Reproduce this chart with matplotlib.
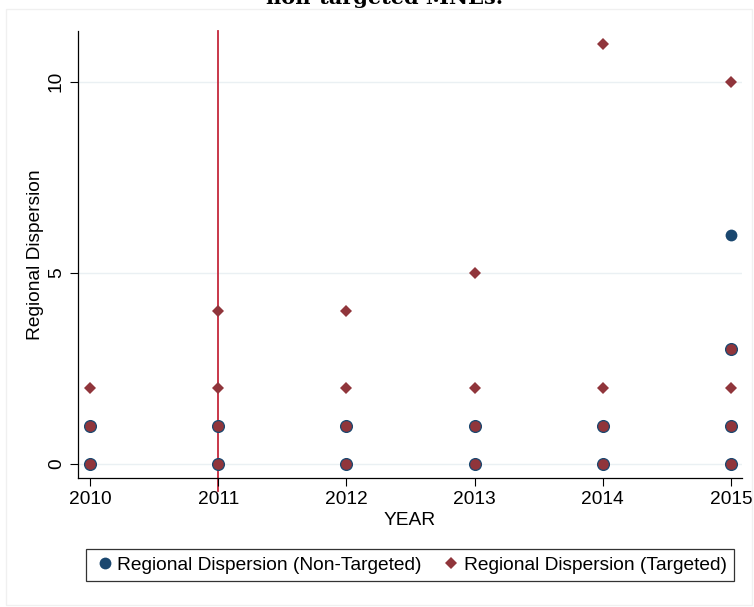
import matplotlib.pyplot as plt
from matplotlib.lines import Line2D
from matplotlib.patches import Rectangle

plt.rcParams['font.family'] = ['Liberation Sans', 'DejaVu Sans']

# Values
years = [2010, 2011, 2012, 2013, 2014, 2015]
nontargeted = {
    2010: [0, 1],
    2011: [0, 1],
    2012: [0, 1],
    2013: [0, 1],
    2014: [0, 1],
    2015: [0, 1, 3, 6],
}
targeted = {
    2010: [0, 1, 2],
    2011: [0, 1, 2, 4],
    2012: [0, 1, 2, 4],
    2013: [0, 1, 2, 5],
    2014: [0, 1, 2, 11],
    2015: [0, 1, 2, 3, 10],
}
event_year = 2011
y_ticks = [0, 5, 10]

navy = '#1a476f'
maroon = '#90353b'
line_red = '#c4283c'
fs = 13.8

fig = plt.figure(figsize=(7.54, 6.07), dpi=100)
ax = fig.add_axes([0.1034, 0.2125, 0.8806, 0.7365])

# faint outer border of the graph region
fig.patches.append(Rectangle((0.008, 0.003), 0.99, 0.982, transform=fig.transFigure,
                             fill=False, edgecolor='#f0f0f0', linewidth=1))

# caption of the page above, cut off at the top edge like in the source
fig.text(0.51, 1 - 4 / 607, 'non-targeted MNEs.', ha='center', va='baseline',
         fontsize=15, family='DejaVu Serif', fontweight='bold')

for v in y_ticks:
    ax.axhline(v, color='#eaf0f3', linewidth=1, zorder=0)

ax.axvline(event_year, color=line_red, linewidth=1.3, zorder=1, clip_on=False,
           ymin=-0.03, ymax=1)

nx, ny, tx, ty, ox, oy = [], [], [], [], [], []
for yr in years:
    for v in nontargeted[yr]:
        if v in targeted[yr]:
            ox.append(yr)
            oy.append(v)
        else:
            nx.append(yr)
            ny.append(v)
    for v in targeted[yr]:
        if v not in nontargeted[yr]:
            tx.append(yr)
            ty.append(v)

ax.plot(nx, ny, 'o', color=navy, markersize=8.5, markeredgewidth=0, zorder=3)
ax.plot(tx, ty, 'D', color=maroon, markersize=6.3, markeredgewidth=0, zorder=3)
ax.plot(ox, oy, 'o', markerfacecolor=maroon, markeredgecolor=navy,
        markersize=8.5, markeredgewidth=0.9, zorder=3)

ax.set_xlim(2009.906, 2015.086)
ax.set_ylim(-0.366, 11.33)
ax.set_xticks(years)
ax.set_yticks(y_ticks)
ax.tick_params(axis='both', direction='out', length=6, width=0.8, labelsize=fs,
               colors='black')
for lbl in ax.get_yticklabels():
    lbl.set_rotation(90)
    lbl.set_va('center')

for s in ['top', 'right']:
    ax.spines[s].set_visible(False)
for s in ['left', 'bottom']:
    ax.spines[s].set_linewidth(0.9)

ax.set_xlabel('YEAR', fontsize=fs, labelpad=3)
ax.set_ylabel('Regional Dispersion', fontsize=fs, labelpad=3)

handles = [
    Line2D([], [], marker='o', linestyle='none', color=navy, markersize=8.5,
           markeredgewidth=0, label='Regional Dispersion (Non-Targeted)'),
    Line2D([], [], marker='D', linestyle='none', color=maroon, markersize=6.3,
           markeredgewidth=0, label='Regional Dispersion (Targeted)'),
]
leg = fig.legend(handles=handles, loc='center', bbox_to_anchor=(0.5444, 1 - 565 / 607),
                 ncol=2, fontsize=fs, frameon=True, fancybox=False,
                 handletextpad=0.1, columnspacing=1.0, borderpad=0.4,
                 handlelength=1.1)
leg.get_frame().set_edgecolor('black')
leg.get_frame().set_linewidth(0.9)

fig.savefig('out.png', dpi=100)
